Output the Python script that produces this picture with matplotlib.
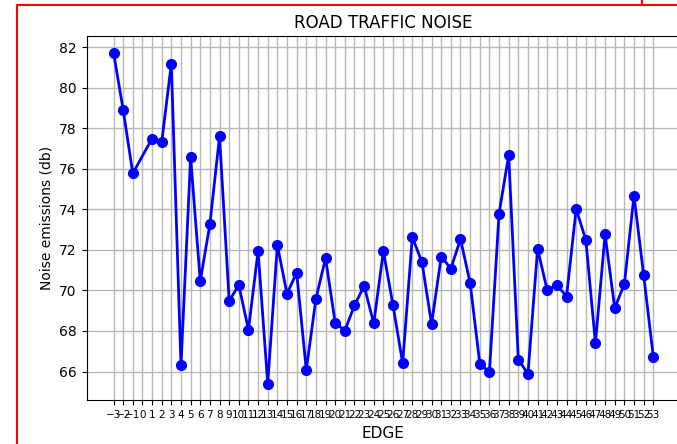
import matplotlib
matplotlib.use('Agg')
import matplotlib.pyplot as plt
from matplotlib.lines import Line2D
import numpy as np

# edge ids (there is no edge 0) and the noise values
edges = [-3, -2, -1] + list(range(1, 54))
noise = [81.73, 78.91, 75.77, 77.49, 77.31, 81.18, 66.30, 76.57, 70.46, 73.27,
         77.59, 69.49, 70.26, 68.06, 71.95, 65.39, 72.23, 69.83, 70.88, 66.08,
         69.59, 71.59, 68.40, 68.02, 69.26, 70.23, 68.37, 71.94, 69.26, 66.41,
         72.63, 71.40, 68.34, 71.67, 71.08, 72.53, 70.37, 66.39, 65.97, 73.79,
         76.67, 66.59, 65.89, 72.05, 70.00, 70.28, 69.70, 74.01, 72.50, 67.40,
         72.76, 69.13, 70.31, 74.67, 70.77, 66.74]
tick_positions = list(range(-3, 54))

fig = plt.figure(figsize=(6.77, 4.44), dpi=100)
ax = fig.add_axes([0.1278, 0.098, 0.877, 0.821])

ax.plot(edges, noise, marker='o', linestyle='-', color='blue', linewidth=2, markersize=7)

ax.set_title('ROAD TRAFFIC NOISE', fontsize=12)
ax.set_xlabel('EDGE', fontsize=11)
ax.set_ylabel('Noise emissions (db)', fontsize=10)
ax.set_xticks(tick_positions)
ax.tick_params(axis='x', labelsize=7.5)
ax.tick_params(axis='y', labelsize=10)
ax.grid(True, color='#b8b8b8', linewidth=1.0)

# red frame around the figure (screenshot border)
red = dict(color='red', linewidth=1.5, transform=fig.transFigure)
fig.add_artist(Line2D([17 / 677, 1.0], [1 - 5 / 444, 1 - 5 / 444], **red))
fig.add_artist(Line2D([17 / 677, 17 / 677], [0.0, 1 - 5 / 444], **red))
fig.add_artist(Line2D([642 / 677, 642 / 677], [1 - 5 / 444, 1.0], **red))

plt.savefig('out.png', dpi=100)
plt.close(fig)
